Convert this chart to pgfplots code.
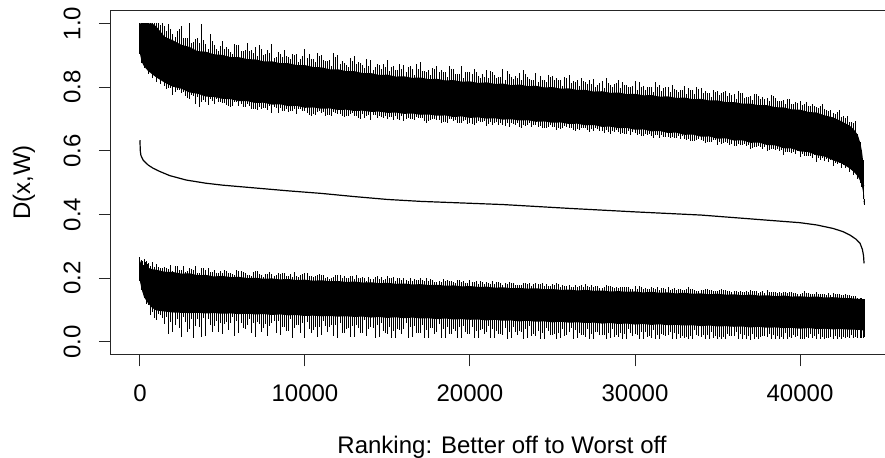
\documentclass[border=0pt]{standalone}
\usepackage{fontspec}
\setmainfont{Liberation Sans}
\usepackage{pgfplots}
\usepackage{pgfplotstable}
\pgfplotsset{compat=1.18}
\usepgfplotslibrary{fillbetween}

\pgfplotstableread{
x ut ub lt lb a1 b1 c1 d1 a2 b2 c2 d2
0     1.000 0.905 0.255 0.190 0 0 0.010 0 0 0 0.005 0
100   1.000 0.880 0.242 0.165 0 0.003 0.015 0.002 0 0.004 0.008 0.003
250   1.000 0.865 0.236 0.140 0 0.004 0.020 0.003 0 0.005 0.010 0.004
500   1.000 0.850 0.232 0.120 0 0.008 0.012 0.006 0 0.006 0.018 0.010
750   1.000 0.840 0.228 0.106 0 0.010 0.008 0.012 0 0.012 0.015 0.020
1000  0.990 0.830 0.226 0.098 0.010 0.015 0.010 0.030 0.005 0.020 0.006 0.015
1500  0.958 0.814 0.220 0.095 0.035 0.012 0.016 0.040 0.040 0.018 0.008 0.070
2000  0.947 0.801 0.219 0.092 0.020 0.025 0.004 0.060 0.030 0.010 0.020 0.020
2500  0.933 0.795 0.214 0.091 0.060 0.015 0.012 0.075 0.020 0.022 0.006 0.030
3000  0.926 0.783 0.215 0.090 0.074 0.020 0.018 0.050 0.015 0.012 0.010 0.078
3500  0.913 0.779 0.209 0.091 0.040 0.010 0.006 0.020 0.084 0.025 0.022 0.076
4000  0.911 0.770 0.210 0.089 0.025 0.018 0.014 0.072 0.055 0.008 0.008 0.035
4500  0.903 0.769 0.205 0.090 0.030 0.022 0.020 0.040 0.010 0.016 0.012 0.060
5000  0.901 0.763 0.207 0.088 0.045 0.012 0.008 0.065 0.025 0.020 0.016 0.025
5500  0.894 0.762 0.203 0.089 0.015 0.026 0.012 0.030 0.040 0.010 0.006 0.070
6000  0.894 0.756 0.204 0.087 0.038 0.015 0.018 0.060 0.020 0.020 0.014 0.045
6500  0.888 0.756 0.200 0.088 0.050 0.010 0.010 0.035 0.030 0.024 0.008 0.062
7000  0.887 0.750 0.201 0.086 0.040 0.020 0.022 0.070 0.045 0.012 0.012 0.030
7500  0.881 0.751 0.198 0.087 0.020 0.016 0.006 0.045 0.035 0.022 0.016 0.068
8000  0.881 0.745 0.199 0.084 0.055 0.025 0.014 0.025 0.015 0.010 0.010 0.055
8500  0.875 0.746 0.196 0.086 0.030 0.012 0.018 0.066 0.040 0.020 0.020 0.040
9000  0.875 0.740 0.197 0.083 0.020 0.018 0.008 0.050 0.028 0.014 0.006 0.070
9500  0.869 0.741 0.194 0.084 0.035 0.024 0.012 0.030 0.018 0.010 0.016 0.058
10000 0.869 0.735 0.195 0.081 0.050 0.010 0.020 0.068 0.035 0.022 0.010 0.040
10500 0.863 0.736 0.192 0.082 0.025 0.020 0.010 0.045 0.045 0.015 0.018 0.066
11000 0.862 0.732 0.193 0.080 0.040 0.014 0.016 0.060 0.020 0.024 0.008 0.030
11500 0.856 0.733 0.190 0.081 0.030 0.022 0.006 0.035 0.050 0.010 0.014 0.064
12000 0.856 0.728 0.191 0.079 0.045 0.012 0.020 0.066 0.025 0.018 0.010 0.050
12500 0.850 0.729 0.188 0.080 0.020 0.020 0.012 0.040 0.040 0.012 0.018 0.066
13000 0.850 0.725 0.189 0.078 0.048 0.016 0.008 0.064 0.030 0.022 0.012 0.035
13500 0.844 0.726 0.186 0.079 0.025 0.010 0.018 0.050 0.045 0.016 0.006 0.062
14000 0.844 0.722 0.187 0.076 0.040 0.024 0.010 0.030 0.020 0.010 0.016 0.064
14500 0.838 0.723 0.184 0.078 0.030 0.014 0.014 0.062 0.035 0.020 0.010 0.045
15000 0.839 0.719 0.185 0.075 0.045 0.020 0.020 0.050 0.025 0.012 0.014 0.063
15500 0.833 0.720 0.182 0.077 0.020 0.012 0.008 0.064 0.040 0.022 0.018 0.040
16000 0.834 0.716 0.183 0.074 0.035 0.022 0.016 0.035 0.030 0.014 0.008 0.062
16500 0.829 0.717 0.180 0.076 0.028 0.016 0.010 0.060 0.042 0.010 0.014 0.050
17000 0.830 0.713 0.181 0.073 0.050 0.010 0.018 0.045 0.022 0.020 0.010 0.062
17500 0.825 0.714 0.178 0.074 0.030 0.020 0.012 0.062 0.035 0.014 0.016 0.030
18000 0.826 0.710 0.179 0.071 0.040 0.014 0.008 0.040 0.028 0.022 0.008 0.060
18500 0.821 0.711 0.176 0.073 0.025 0.022 0.016 0.060 0.045 0.012 0.014 0.050
19000 0.822 0.706 0.177 0.070 0.035 0.012 0.010 0.030 0.020 0.018 0.018 0.058
19500 0.817 0.708 0.174 0.071 0.048 0.020 0.014 0.058 0.030 0.010 0.010 0.040
20000 0.818 0.703 0.175 0.069 0.030 0.016 0.020 0.045 0.040 0.022 0.012 0.058
20500 0.813 0.705 0.172 0.070 0.022 0.010 0.010 0.058 0.028 0.016 0.016 0.030
21000 0.815 0.701 0.173 0.067 0.040 0.022 0.016 0.035 0.035 0.012 0.008 0.056
21500 0.810 0.702 0.170 0.069 0.028 0.014 0.012 0.056 0.022 0.020 0.018 0.045
22000 0.811 0.698 0.171 0.066 0.045 0.018 0.008 0.045 0.038 0.010 0.012 0.056
22500 0.806 0.699 0.168 0.067 0.025 0.012 0.016 0.056 0.030 0.018 0.010 0.035
23000 0.808 0.695 0.169 0.064 0.035 0.020 0.010 0.030 0.045 0.014 0.016 0.054
23500 0.803 0.696 0.167 0.066 0.030 0.014 0.014 0.054 0.020 0.022 0.008 0.048
24000 0.804 0.691 0.168 0.063 0.040 0.010 0.018 0.045 0.032 0.012 0.014 0.053
24500 0.799 0.692 0.165 0.064 0.022 0.020 0.010 0.054 0.040 0.016 0.010 0.030
25000 0.800 0.688 0.166 0.061 0.035 0.014 0.016 0.040 0.028 0.022 0.018 0.052
25500 0.795 0.689 0.163 0.063 0.028 0.022 0.008 0.052 0.036 0.010 0.012 0.045
26000 0.796 0.684 0.164 0.060 0.042 0.012 0.014 0.030 0.024 0.018 0.008 0.050
26500 0.791 0.685 0.161 0.061 0.030 0.018 0.010 0.050 0.038 0.012 0.016 0.040
27000 0.791 0.680 0.163 0.059 0.025 0.010 0.018 0.045 0.030 0.020 0.010 0.050
27500 0.786 0.681 0.160 0.060 0.040 0.020 0.012 0.050 0.022 0.014 0.014 0.030
28000 0.787 0.675 0.161 0.057 0.032 0.014 0.008 0.035 0.040 0.010 0.018 0.048
28500 0.782 0.676 0.158 0.059 0.024 0.022 0.016 0.048 0.028 0.018 0.010 0.045
29000 0.783 0.671 0.159 0.056 0.038 0.012 0.010 0.040 0.034 0.014 0.014 0.048
29500 0.778 0.672 0.157 0.057 0.028 0.018 0.014 0.047 0.022 0.022 0.008 0.030
30000 0.779 0.666 0.158 0.054 0.040 0.010 0.018 0.030 0.036 0.012 0.016 0.046
30500 0.774 0.667 0.155 0.056 0.030 0.020 0.010 0.046 0.026 0.016 0.012 0.040
31000 0.775 0.661 0.157 0.053 0.025 0.014 0.014 0.040 0.040 0.010 0.008 0.045
31500 0.770 0.662 0.154 0.055 0.036 0.022 0.008 0.045 0.028 0.018 0.016 0.035
32000 0.771 0.656 0.155 0.052 0.030 0.012 0.016 0.030 0.034 0.014 0.010 0.044
32500 0.766 0.657 0.152 0.053 0.024 0.018 0.012 0.044 0.024 0.020 0.014 0.040
33000 0.767 0.650 0.154 0.051 0.036 0.014 0.010 0.040 0.030 0.012 0.018 0.043
33500 0.762 0.651 0.151 0.052 0.028 0.020 0.016 0.043 0.038 0.016 0.008 0.030
34000 0.763 0.644 0.152 0.049 0.034 0.010 0.010 0.035 0.026 0.020 0.014 0.041
34500 0.758 0.645 0.149 0.051 0.024 0.016 0.014 0.042 0.032 0.012 0.010 0.040
35000 0.758 0.638 0.151 0.048 0.030 0.020 0.008 0.040 0.024 0.016 0.016 0.040
35500 0.753 0.639 0.148 0.049 0.036 0.012 0.016 0.040 0.030 0.020 0.012 0.030
36000 0.753 0.632 0.149 0.047 0.026 0.018 0.012 0.030 0.034 0.010 0.008 0.039
36500 0.748 0.633 0.146 0.048 0.032 0.014 0.010 0.039 0.022 0.018 0.014 0.038
37000 0.748 0.625 0.148 0.045 0.024 0.020 0.014 0.038 0.030 0.012 0.010 0.037
37500 0.743 0.626 0.145 0.047 0.030 0.012 0.008 0.037 0.026 0.020 0.016 0.030
38000 0.743 0.618 0.146 0.044 0.022 0.018 0.016 0.030 0.032 0.014 0.010 0.036
38500 0.737 0.617 0.143 0.045 0.028 0.014 0.012 0.036 0.020 0.018 0.014 0.035
39000 0.736 0.608 0.145 0.043 0.024 0.020 0.010 0.034 0.026 0.012 0.008 0.034
39500 0.730 0.607 0.142 0.044 0.018 0.014 0.014 0.033 0.024 0.018 0.012 0.030
40000 0.729 0.598 0.143 0.041 0.026 0.018 0.008 0.032 0.018 0.014 0.016 0.032
40500 0.722 0.596 0.141 0.043 0.020 0.012 0.012 0.032 0.024 0.020 0.010 0.031
41000 0.720 0.586 0.142 0.040 0.016 0.020 0.014 0.030 0.020 0.014 0.008 0.031
41500 0.711 0.582 0.139 0.041 0.020 0.014 0.010 0.031 0.014 0.018 0.014 0.030
42000 0.705 0.570 0.140 0.039 0.014 0.018 0.012 0.029 0.018 0.012 0.010 0.030
42500 0.693 0.561 0.138 0.040 0.012 0.014 0.008 0.030 0.010 0.016 0.012 0.028
43000 0.679 0.545 0.137 0.038 0.010 0.012 0.010 0.027 0.008 0.010 0.008 0.027
43250 0.668 0.534 0.136 0.038 0.006 0.010 0.006 0.026 0.004 0.006 0.004 0.024
43500 0.650 0.520 0.135 0.037 0.004 0.008 0.004 0.025 0 0 0 0
43650 0.625 0.505 0.135 0.037 0.002 0.006 0.002 0.025 0 0 0 0
43750 0.600 0.490 0.134 0.036 0.000 0.004 0.002 0.024 0 0 0 0
43820 0.570 0.470 0.134 0.036 0.000 0.002 0.000 0.024 0 0 0 0
43860 0.530 0.450 0.133 0.035 0.000 0.000 0.000 0.022 0 0 0 0
43880 0.450 0.430 0.133 0.035 0.000 0.000 0.000 0.020 0 0 0 0
}\band

\pgfplotstableread{
x y
0     0.633
20    0.600
60    0.585
200   0.570
500   0.555
800   0.545
1200  0.535
1800  0.522
2800  0.508
4000  0.498
5000  0.492
7000  0.483
9000  0.474
11000 0.466
13000 0.456
15000 0.447
17000 0.441
19000 0.437
22000 0.431
26000 0.419
30000 0.408
34000 0.398
38000 0.382
40000 0.374
41000 0.367
42000 0.356
42600 0.346
43030 0.335
43400 0.322
43640 0.309
43780 0.290
43850 0.270
43880 0.246
}\midcurve

\pgfplotsset{
  spike/.style={black, only marks, mark=*, mark size=0.01pt,
    error bars/.cd, y dir=both, y explicit, error mark=none,
    error bar style={line width=0.5pt, black, solid}},
}
% strokes drawn from a lower end lo to an upper end hi (both read from the table)
% #1 x offset, #2 lo, #3 hi, #4 last x kept
\newcommand\spikes[4]{%
  \addplot[restrict x to domain=0:#4, spike] table[x expr={\thisrow{x}+#1},
    y expr={((#2)+(#3))/2}, y error expr={((#3)-(#2))/2}]{\band};}

\begin{document}
\begin{tikzpicture}
\begin{axis}[
  at={(0,0)}, anchor=south west,
  scale only axis, width=391pt, height=171.9pt,
  xmin=-1755, xmax=45635, ymin=-0.04, ymax=1.04,
  axis line style={black!85, line width=0.5pt},
  xtick={0,10000,20000,30000,40000},
  xticklabels={0,10000,20000,30000,40000},
  scaled x ticks=false,
  ytick={0,0.2,0.4,0.6,0.8,1.0},
  yticklabels={0.0,0.2,0.4,0.6,0.8,1.0},
  tick align=outside, major tick length=6pt,
  xtick pos=lower, ytick pos=left,
  tick style={black!85, line width=0.5pt},
  tick label style={font=\fontsize{12}{14}\selectfont, inner sep=0pt},
  xticklabel style={anchor=north}, xticklabel shift=9pt,
  yticklabel style={rotate=90, anchor=south}, yticklabel shift=9pt,
  xlabel={Ranking: Better off to Worst off},
  ylabel={D(x,W)},
  label style={font=\fontsize{12}{14}\selectfont},
  xlabel style={at={([yshift=-46.5pt]axis description cs:0.5,0)}, anchor=center},
  ylabel style={at={([xshift=-43.5pt]axis description cs:0,0.5)}, anchor=center},
]
% upper band body
\addplot[draw=none, name path=UT, forget plot] table[x=x,y=ut]{\band};
\addplot[draw=none, name path=UB, forget plot] table[x=x,y=ub]{\band};
\addplot[fill=black, draw=none] fill between[of=UT and UB];
% lower band body
\addplot[draw=none, name path=LT, forget plot] table[x=x,y=lt]{\band};
\addplot[draw=none, name path=LB, forget plot] table[x=x,y=lb]{\band};
\addplot[fill=black, draw=none] fill between[of=LT and LB];
% upper band strokes
\spikes{0}{\thisrow{ub}-\thisrow{b1}}{\thisrow{ut}+\thisrow{a1}}{43880}
\spikes{250}{\thisrow{ub}-\thisrow{b2}}{\thisrow{ut}+\thisrow{a2}}{43400}
\spikes{125}{\thisrow{ub}-0.5*\thisrow{a2}}{min(1,\thisrow{ut}+\thisrow{b2})}{43400}
\spikes{375}{\thisrow{ub}-0.5*\thisrow{a1}}{min(1,\thisrow{ut}+\thisrow{b1}+0.3*\thisrow{a2})}{43400}
% lower band strokes
\spikes{0}{\thisrow{lb}-\thisrow{d1}}{\thisrow{lt}+\thisrow{c1}}{43880}
\spikes{250}{\thisrow{lb}-\thisrow{d2}}{\thisrow{lt}+\thisrow{c2}}{43400}
\spikes{125}{\thisrow{lb}-2*\thisrow{c2}}{\thisrow{lt}+0.3*\thisrow{d1}}{43400}
\spikes{375}{\thisrow{lb}-0.8*\thisrow{d1}}{\thisrow{lt}+0.3*\thisrow{d2}}{43400}
% middle curve
\addplot[black, line width=0.6pt] table[x=x,y=y]{\midcurve};
\end{axis}
\pgfresetboundingbox
\path[use as bounding box] (-55.5pt,-51.75pt) rectangle (387pt,177.25pt);
\end{tikzpicture}
\end{document}
